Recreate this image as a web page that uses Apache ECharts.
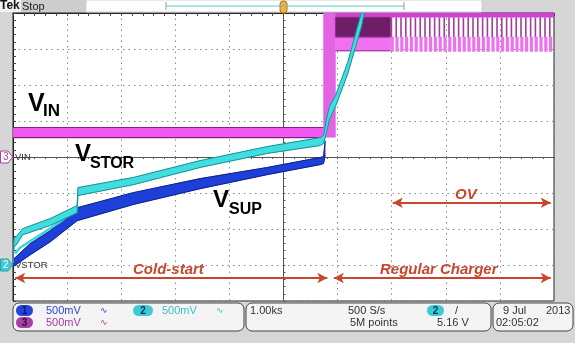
<!DOCTYPE html>
<html><head><meta charset="utf-8">
<script src="https://cdn.jsdelivr.net/npm/echarts@6/dist/echarts.min.js"></script>
<style>html,body{margin:0;padding:0;background:#d6d6d6;}#c{width:575px;height:343px;}</style>
</head><body><div id="c"></div>
<script>
// Units: x = time in divisions from trigger (1.00 ks/div), y = divisions from screen centre
// ---- VIN (ch3, magenta) ----
const vinFlatX = [-5, 0.74];
const vinFlatLow = [0.54, 0.54];
const vinFlatHigh = [0.82, 0.82];
const vinRiseX = [0.74, 0.96];
const vinRiseLow = [0.55, 0.55];
const vinRiseHigh = [4.0, 4.0];
const vinTopX = [0.96, 5];
const vinTopLow = [3.88, 3.88];
const vinTopHigh = [4.0, 4.0];
const vinOvX = [0.96, 1.98];
const vinOvDarkLow = [3.33, 3.33];
const vinOvDarkHigh = [3.88, 3.88];
const vinOvPinkLow = [2.95, 2.95];
const vinOvPinkHigh = [3.33, 3.33];
const vinPulseX = [1.98, 5];
const vinPulseUpperY = [3.60, 3.60];
const vinPulseLowerY = [3.13, 3.13];
// ---- VSUP (ch1, blue) ----
const vsupX    = [-5.00, -4.685, -4.315, -3.815, -2.778, -1.54, -0.30, 0.685, 0.74, 0.77];
const vsupLow  = [-3.05, -2.72, -2.36, -1.77, -1.32, -0.88, -0.49, -0.21, -0.18, 0.05];
const vsupHigh = [-2.85, -2.41, -2.05, -1.41, -0.99, -0.60, -0.29, -0.01, 0.01, 0.45];
// ---- VSTOR (ch2, cyan) ----
const vstorX    = [-5.00, -4.98, -4.93, -4.82, -4.31, -3.815, -3.80, -2.78, -1.54, -0.30, 0.685, 0.74, 0.80, 0.85, 0.96, 1.185, 1.44, 1.49];
const vstorLow  = [-2.94, -2.50, -2.42, -2.16, -1.90, -1.55, -1.07, -0.77, -0.29, 0.10, 0.32, 0.38, 0.70, 1.05, 1.40, 2.30, 3.62, 4.00];
const vstorHigh = [-2.80, -2.25, -2.20, -1.99, -1.71, -1.35, -0.85, -0.57, -0.10, 0.29, 0.54, 0.60, 1.10, 1.40, 1.70, 2.62, 4.00, 4.00];
const vstorEnvX = [-4.96, -4.87, -4.685, -4.41, -4.13, -3.815];
const vstorEnvY = [-2.68, -2.52, -2.34, -2.08, -1.80, -1.42];
// ---- annotation arrows ----
const arrowY = -3.36;
const coldStart = [-4.96, 0.81];
const regular = [0.93, 4.94];
const ovY = -1.27;
const ovRange = [2.02, 4.94];

const RED = '#c8462c';
const zip = (xs, ys) => xs.map((x, i) => [x, ys[i]]);

// filled band between a lower and an upper trace edge, drawn through the cartesian scales
function band(xs, lo, hi, fill, edge, edgeW, z) {
  return {
    type: 'custom', coordinateSystem: 'cartesian2d', z: z, silent: true, clip: true,
    data: xs.map((x, i) => [x, lo[i], hi[i]]),
    encode: { x: 0, y: [1, 2] },
    renderItem: function (params, api) {
      if (params.dataIndex !== 0) return null;
      const up = xs.map((x, i) => api.coord([x, hi[i]]));
      const dn = xs.map((x, i) => api.coord([x, lo[i]]));
      const children = [{ type: 'polygon', shape: { points: up.concat(dn.slice().reverse()) },
        style: { fill: fill, stroke: fill, lineWidth: 0.5 } }];
      if (edgeW > 0) {
        children.push({ type: 'polyline', shape: { points: up }, style: { fill: null, stroke: edge, lineWidth: edgeW } });
        children.push({ type: 'polyline', shape: { points: dn }, style: { fill: null, stroke: edge, lineWidth: edgeW } });
      }
      return { type: 'group', children: children };
    }
  };
}

const series = [
  band(vinFlatX, vinFlatLow, vinFlatHigh, '#f058f0', '#8a1c8a', 1.2, 2),
  band(vinRiseX, vinRiseLow, vinRiseHigh, '#e462e4', '#e462e4', 0, 2),
  band(vinTopX, vinTopLow, vinTopHigh, '#d63ed6', '#d63ed6', 0, 2),
  band(vinOvX, vinOvDarkLow, vinOvDarkHigh, '#6e1e66', '#6e1e66', 0, 2),
  band(vinOvX, vinOvPinkLow, vinOvPinkHigh, '#f070f0', '#8a2a8a', 1, 2),
  { type: 'line', data: zip(vinPulseX, vinPulseUpperY), symbol: 'none', z: 2, silent: true,
    lineStyle: { color: '#a23ca0', width: 20, type: [1.6, 3.2], cap: 'butt' } },
  { type: 'line', data: zip(vinPulseX, vinPulseLowerY), symbol: 'none', z: 2, silent: true,
    lineStyle: { color: '#ee72ee', width: 15, type: [3.2, 1.6], cap: 'butt' } },
  band(vsupX, vsupLow, vsupHigh, '#1f40d8', '#0c1e8a', 1, 3),
  { type: 'line', data: zip(vstorEnvX, vstorEnvY), symbol: 'none', z: 4, silent: true,
    lineStyle: { color: '#3ad6d8', width: 2.5 },
    markLine: {
      silent: true, symbol: ['arrow', 'arrow'], symbolSize: [8, 10], animation: false,
      label: { show: false },
      lineStyle: { color: RED, width: 2, type: 'solid' },
      data: [
        [{ coord: [coldStart[0], arrowY] }, { coord: [coldStart[1], arrowY] }],
        [{ coord: [regular[0], arrowY] }, { coord: [regular[1], arrowY] }],
        [{ coord: [ovRange[0], ovY] }, { coord: [ovRange[1], ovY] }]
      ]
    } },
  band(vstorX, vstorLow, vstorHigh, '#40dede', '#1a8f98', 1, 5)
];

const axisCommon = { type: 'value', axisLabel: { show: false } };
const font = '"Liberation Sans", Arial, sans-serif';
function txt(x, y, text, opts) {
  opts = opts || {};
  return { type: 'text', x: x, y: y, z: 100, silent: true,
    style: { text: text, font: opts.font || ('11px ' + font), fill: opts.fill || '#333',
      textAlign: opts.align || 'left', align: opts.align || 'left',
      textVerticalAlign: 'middle', verticalAlign: 'middle' } };
}
function rect(x, y, w, h, fill, stroke, r, lw) {
  return { type: 'rect', z: 90, silent: true, shape: { x: x, y: y, width: w, height: h, r: r || 0 },
    style: { fill: fill, stroke: stroke || null, lineWidth: lw || 1 } };
}
const bold = (s) => 'bold ' + s + 'px ' + font;
const boldIt = (s) => 'italic bold ' + s + 'px ' + font;

const graphics = [
  rect(0, 0, 21, 12, '#f2f2f2'),
  rect(21, 0, 65, 12, '#cdcdcd'),
  rect(86, 0, 396, 12, '#ffffff', '#cfcfcf'),
  { type: 'line', z: 91, silent: true, shape: { x1: 166, y1: 6, x2: 404, y2: 6 }, style: { stroke: '#5cc6ce', lineWidth: 1 } },
  { type: 'line', z: 91, silent: true, shape: { x1: 166, y1: 2, x2: 166, y2: 10 }, style: { stroke: '#999', lineWidth: 1 } },
  { type: 'line', z: 91, silent: true, shape: { x1: 404, y1: 2, x2: 404, y2: 10 }, style: { stroke: '#999', lineWidth: 1 } },
  rect(280, 1, 7, 12, '#f4b040', '#b87010', 3),
  txt(0, 6, 'Tek', { font: bold(12), fill: '#111' }),
  txt(22, 6.5, 'Stop', { font: '11px ' + font, fill: '#222' }),
  { type: 'polygon', z: 95, silent: true, shape: { points: [[0.5, 151], [8, 151], [12.5, 157], [8, 163], [0.5, 163]] },
    style: { fill: '#ffffff', stroke: '#a444a4', lineWidth: 1 } },
  txt(3, 157, '3', { font: '10px ' + font, fill: '#a444a4' }),
  txt(15, 157.5, 'VIN', { font: '9.5px ' + font, fill: '#333' }),
  { type: 'polygon', z: 95, silent: true, shape: { points: [[0.5, 259], [8, 259], [12.5, 265], [8, 271], [0.5, 271]] },
    style: { fill: '#3ccad3', stroke: '#2aa5ad', lineWidth: 1 } },
  txt(3, 265, '2', { font: '10px ' + font, fill: '#ffffff' }),
  txt(15, 265.5, 'VSTOR', { font: '9.5px ' + font, fill: '#333' }),
  txt(28, 104, 'V', { font: bold(25), fill: '#000' }),
  txt(43, 111.5, 'IN', { font: bold(17), fill: '#000' }),
  txt(75, 154.5, 'V', { font: bold(24), fill: '#000' }),
  txt(90, 164, 'STOR', { font: bold(16), fill: '#000' }),
  txt(213, 200.5, 'V', { font: bold(24), fill: '#000' }),
  txt(229, 210, 'SUP', { font: bold(16), fill: '#000' }),
  txt(133, 270, 'Cold-start', { font: boldIt(15), fill: RED }),
  txt(380, 269.5, 'Regular Charger', { font: boldIt(15), fill: RED }),
  txt(455, 194.5, 'OV', { font: boldIt(15), fill: RED }),
  rect(13, 303, 231, 28, '#f4f4f4', '#444', 6),
  rect(246, 303, 245, 28, '#f4f4f4', '#444', 6),
  rect(493, 303, 80, 28, '#f4f4f4', '#444', 6),
  rect(16, 305, 17, 11, '#2446d8', null, 5.5),
  txt(24.5, 311, '1', { font: bold(10), fill: '#0b1b6b', align: 'center' }),
  txt(46, 311, '500mV', { fill: '#2a48d0' }),
  txt(100, 311, '∿', { font: '9px "DejaVu Sans"', fill: '#2a48d0' }),
  rect(133, 305, 20, 11, '#3ccbd4', null, 5.5),
  txt(143, 311, '2', { font: bold(10), fill: '#103050', align: 'center' }),
  txt(162, 311, '500mV', { fill: '#3fc0cc' }),
  txt(216, 311, '∿', { font: '9px "DejaVu Sans"', fill: '#3fc0cc' }),
  rect(16, 317, 17, 11, '#a640a8', null, 5.5),
  txt(24.5, 323, '3', { font: bold(10), fill: '#301030', align: 'center' }),
  txt(46, 323, '500mV', { fill: '#a040a0' }),
  txt(100, 323, '∿', { font: '9px "DejaVu Sans"', fill: '#a040a0' }),
  txt(250, 311, '1.00ks'),
  txt(348, 311, '500 S/s'),
  txt(350, 323, '5M points'),
  rect(427, 305, 17, 11, '#3ccbd4', null, 5.5),
  txt(435.5, 311, '2', { font: bold(10), fill: '#103050', align: 'center' }),
  txt(455, 311, '/'),
  txt(437, 323, '5.16 V'),
  txt(503, 311, '9 Jul'),
  txt(546, 311, '2013'),
  txt(496, 323, '02:05:02')
];

const chart = echarts.init(document.getElementById('c'), null, { renderer: 'canvas' });
chart.setOption({
  animation: false,
  backgroundColor: '#d6d6d6',
  grid: { left: 13, right: 21, top: 13, bottom: 42, show: true, backgroundColor: '#ffffff', borderColor: '#222', borderWidth: 1 },
  xAxis: [
    Object.assign({}, axisCommon, { min: -5, max: 5, interval: 1, position: 'bottom',
      axisLine: { show: true, onZero: true, lineStyle: { color: '#555', width: 1 } },
      axisTick: { show: true, length: 2, inside: false, lineStyle: { color: '#555' } },
      minorTick: { show: true, splitNumber: 5, length: 2, lineStyle: { color: '#555' } },
      splitLine: { show: true, lineStyle: { color: '#8a8a8a', width: 1, type: [1.5, 4] } } }),
    Object.assign({}, axisCommon, { min: -5, max: 5, interval: 1, position: 'top',
      axisLine: { show: true, onZero: false, lineStyle: { color: '#222', width: 1 } },
      axisTick: { show: true, length: 3, inside: true, lineStyle: { color: '#444' } },
      minorTick: { show: true, splitNumber: 5, length: 3, lineStyle: { color: '#444' } },
      splitLine: { show: false } })
  ],
  yAxis: [
    Object.assign({}, axisCommon, { min: -4, max: 4, interval: 1, position: 'right',
      axisLine: { show: true, onZero: true, lineStyle: { color: '#555', width: 1 } },
      axisTick: { show: true, length: 2, inside: false, lineStyle: { color: '#555' } },
      minorTick: { show: true, splitNumber: 5, length: 2, lineStyle: { color: '#555' } },
      splitLine: { show: true, lineStyle: { color: '#8a8a8a', width: 1, type: [1.5, 4] } } }),
    Object.assign({}, axisCommon, { min: -4, max: 4, interval: 1, position: 'left',
      axisLine: { show: true, onZero: false, lineStyle: { color: '#222', width: 1 } },
      axisTick: { show: true, length: 3, inside: true, lineStyle: { color: '#444' } },
      minorTick: { show: true, splitNumber: 5, length: 3, lineStyle: { color: '#444' } },
      splitLine: { show: false } })
  ],
  series: series,
  graphic: graphics
});
</script>
</body></html>
